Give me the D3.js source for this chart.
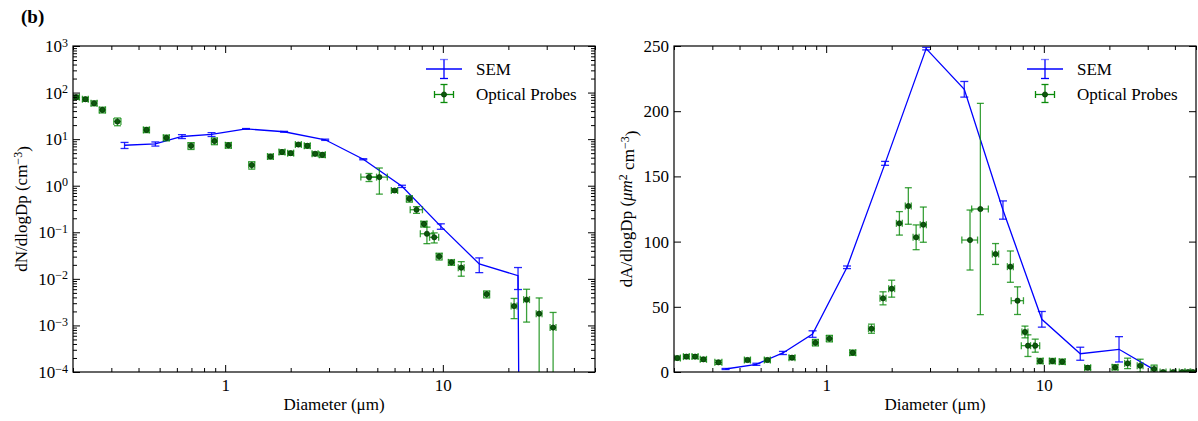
<!DOCTYPE html>
<html><head><meta charset="utf-8">
<script src="https://cdn.jsdelivr.net/npm/d3@7"></script>
<style>
body{margin:0;background:#fff;}
svg, svg text{font-family:"Liberation Serif","Times New Roman",Times,serif;}
</style></head><body><svg id="c" width="1198" height="421"></svg>
<script>
// ---- SEM series ----
const semD    = [0.345, 0.478, 0.633, 0.866, 1.247, 1.865, 2.88, 4.31, 6.49, 9.79, 14.7, 22.15, 31.9];
const semN    = [7.4, 7.9, 11.4, 12.6, 16.6, 14.4, 9.7, 3.7, 0.97, 0.134, 0.0209, 0.0117, 0];
const semNErr = [1.1, 0.8, 1.1, 1.2, 0.3, 0.3, 0.3, 0.1, 0.053, 0.018, 0.0073, 0.0058, 0];
const semA    = [2.3, 5.9, 14.6, 29.1, 80.3, 160, 248, 216.8, 124.2, 40.4, 14, 17.4, 2.0];
const semAErr = [0.4, 0.8, 1.2, 2.5, 1, 1.5, 1, 6, 7, 6, 5, 9.7, 0];

// ---- Optical probes series ----
const optD    = [0.207, 0.228, 0.25, 0.273, 0.32, 0.435, 0.537, 0.697, 0.893, 1.035, 1.325, 1.615, 1.825, 2.0, 2.17, 2.385, 2.59, 2.795,
                 4.58, 5.11, 6.0, 7.02, 7.57, 8.19, 8.45, 9.13, 9.62, 10.95, 12.15, 15.9, 21.25, 24.25, 27.7, 32.1,
                 35.3, 39.3, 43.2, 45.9, 48.4];
const optDErr = [0.007, 0.007, 0.008, 0.009, 0.012, 0.014, 0.017, 0.022, 0.028, 0.033, 0.042, 0.05, 0.058, 0.063, 0.068, 0.075, 0.082, 0.09,
                 0.38, 0.45, 0.2, 0.22, 0.49, 0.26, 0.57, 0.44, 0.3, 0.35, 0.38, 0.5, 0.65, 0.75, 0.85, 1.0,
                 1.1, 1.2, 1.3, 1.4, 1.5];
const optN    = [79.6, 72, 59, 42.5, 23.9, 15.8, 10.7, 7.2, 9.1, 7.4, 2.77, 4.24, 5.3, 5.0, 7.66, 7.2, 4.85, 4.6,
                 1.53, 1.53, 0.79, 0.524, 0.305, 0.151, 0.093, 0.078, 0.0304, 0.0226, 0.0174, 0.0047, 0.0026, 0.00358, 0.00179, 0.0009,
                 0, 0, 0, 0, 0];
const optNErr = [8, 7, 7, 6, 4.5, 2, 1.5, 1.2, 1.5, 1, 0.5, 0.5, 0.6, 0.5, 0.6, 0.8, 0.45, 0.55,
                 0.3, 0.87, 0.07, 0.08, 0.05, 0.021, 0.036, 0.019, 0.005, 0.003, 0.006, 0.0008, 0.0012, 0.0024, 0.0021, 0.001,
                 0, 0, 0, 0, 0];
const optA    = [10.7, 11.8, 11.8, 9.7, 7.4, 9.2, 9.2, 11.0, 22.5, 25.6, 14.8, 33.2, 56.5, 63.9, 114, 127.3, 103.3, 113,
                 101.2, 125, 90.5, 80.8, 54.7, 30.7, 20.2, 20.2, 8.4, 8.4, 7.9, 3.3, 3.6, 6.6, 4.8, 2.3,
                 0, 0, 0, 0, 0];
const optAErr = [1.5, 1.5, 1.5, 1.5, 1.5, 1.5, 1.5, 1.5, 2.5, 2.5, 2, 3.5, 5, 6.5, 9, 14, 9.5, 13.5,
                 23, 81, 8, 12, 10.6, 4.5, 8.3, 5, 2, 2, 2, 1.5, 2, 4, 5, 3,
                 0.5, 0.5, 0.5, 0.5, 0.5];

// ---- ticks / labels ----
const xDomain = [0.2, 50];
const xMajor = [1, 10];
const xMinor = [0.2,0.3,0.4,0.5,0.6,0.7,0.8,0.9,2,3,4,5,6,7,8,9,20,30,40,50];
const yLogMajorExp = [-4,-3,-2,-1,0,1,2,3];
const yLinMajor = [0,50,100,150,200,250];
const legendLabels = ["SEM", "Optical Probes"];

const SERIF = "'Liberation Serif', 'Times New Roman', serif";
const BLUE = "#0000ff", GREEN = "#0a8a0a", MARK = "#0b5a0b";
const svg = d3.select("#c");
svg.append("rect").attr("width",1198).attr("height",421).attr("fill","#fff");

function drawPanel(p) {
  const x = d3.scaleLog().domain(xDomain).range([p.x0, p.x1]);
  const y = p.log ? d3.scaleLog().domain([1e-4, 1e3]).range([p.y1, p.y0])
                  : d3.scaleLinear().domain([0, 250]).range([p.y1, p.y0]);
  const yOf = v => p.log ? (v > 0 ? y(v) : p.y1 + 5000) : y(v);
  const clipId = "clip" + p.id;
  svg.append("clipPath").attr("id", clipId).append("rect")
    .attr("x", p.x0).attr("y", p.y0).attr("width", p.x1 - p.x0).attr("height", p.y1 - p.y0);
  const g = svg.append("g");
  const plot = g.append("g").attr("clip-path", `url(#${clipId})`);

  // SEM line
  const idx = d3.range(semD.length);
  plot.append("path").attr("d", d3.line().x(i => x(semD[i])).y(i => yOf(p.semV[i]))(idx))
    .attr("fill", "none").attr("stroke", BLUE).attr("stroke-width", 1.3);
  // SEM error bars
  idx.forEach(i => {
    const v = p.semV[i], e = p.semE[i];
    if (!(e > 0)) return;
    const cx = x(semD[i]);
    const yt = yOf(v + e), yb = (v - e > 0 || !p.log) ? yOf(v - e) : p.y1 + 20;
    const eg = plot.append("g").attr("stroke", BLUE).attr("stroke-width", 1.3).attr("stroke-opacity", 0.85);
    eg.append("line").attr("x1", cx).attr("x2", cx).attr("y1", yt).attr("y2", yb);
    [yt, yb].forEach(yy => eg.append("line").attr("x1", cx - 4).attr("x2", cx + 4).attr("y1", yy).attr("y2", yy));
  });

  // Optical probes
  const oIdx = d3.range(optD.length).filter(i => !p.log || p.optV[i] > 0);
  oIdx.forEach(i => {
    const v = p.optV[i], e = p.optE[i], d = optD[i], de = optDErr[i];
    const cx = x(d), cy = yOf(v);
    const yt = yOf(v + e), yb = (v - e > 0 || !p.log) ? yOf(v - e) : p.y1 + 20;
    const xl = x(d - de), xr = x(d + de);
    const eg = plot.append("g").attr("stroke", GREEN).attr("stroke-width", 1.3).attr("stroke-opacity", 0.8);
    eg.append("line").attr("x1", cx).attr("x2", cx).attr("y1", yt).attr("y2", yb);
    [yt, yb].forEach(yy => eg.append("line").attr("x1", cx - 3.5).attr("x2", cx + 3.5).attr("y1", yy).attr("y2", yy));
    eg.append("line").attr("x1", xl).attr("x2", xr).attr("y1", cy).attr("y2", cy);
    [xl, xr].forEach(xx => eg.append("line").attr("x1", xx).attr("x2", xx).attr("y1", cy - 3.5).attr("y2", cy + 3.5));
  });
  oIdx.forEach(i => {
    plot.append("circle").attr("cx", x(optD[i])).attr("cy", yOf(p.optV[i])).attr("r", 2.6)
      .attr("fill", MARK).attr("stroke", "#053005").attr("stroke-width", 0.7);
  });

  // Axes
  const ax = g.append("g");
  const fmtAxis = sel => {
    sel.attr("font-size", 17).attr("font-family", SERIF);
    sel.select(".domain").remove();
    sel.selectAll(".tick line").attr("stroke", "#000");
    sel.selectAll("text").attr("fill", "#000");
  };
  ax.append("g").attr("transform", `translate(0,${p.y1})`)
    .call(d3.axisBottom(x).tickValues(xMajor).tickSize(-7).tickPadding(7).tickFormat(d3.format("d"))).call(fmtAxis);
  ax.append("g").attr("transform", `translate(0,${p.y1})`)
    .call(d3.axisBottom(x).tickValues(xMinor).tickSize(-4).tickFormat("")).call(fmtAxis);
  ax.append("g").attr("transform", `translate(0,${p.y0})`)
    .call(d3.axisTop(x).tickValues(xMajor).tickSize(-7).tickFormat("")).call(fmtAxis);
  ax.append("g").attr("transform", `translate(0,${p.y0})`)
    .call(d3.axisTop(x).tickValues(xMinor).tickSize(-4).tickFormat("")).call(fmtAxis);

  const yMajor = p.log ? yLogMajorExp.map(k => Math.pow(10, k)) : yLinMajor;
  const yl = ax.append("g").attr("transform", `translate(${p.x0},0)`)
    .call(d3.axisLeft(y).tickValues(yMajor).tickSize(-7).tickPadding(5).tickFormat(d3.format("d"))).call(fmtAxis);
  ax.append("g").attr("transform", `translate(${p.x1},0)`)
    .call(d3.axisRight(y).tickValues(yMajor).tickSize(-7).tickFormat("")).call(fmtAxis);
  if (p.log) {
    yl.selectAll(".tick text").each(function(d, j) {
      const t = d3.select(this).text(null);
      const k = yLogMajorExp[j];
      t.append("tspan").text("10");
      t.append("tspan").attr("dy", "-0.45em").attr("font-size", 12).text(k < 0 ? "\u2212" + (-k) : String(k));
    });
    const yMinor = [];
    yLogMajorExp.slice(0, -1).forEach(k => { for (let m = 2; m <= 9; m++) yMinor.push(m * Math.pow(10, k)); });
    ax.append("g").attr("transform", `translate(${p.x0},0)`)
      .call(d3.axisLeft(y).tickValues(yMinor).tickSize(-4).tickFormat("")).call(fmtAxis);
    ax.append("g").attr("transform", `translate(${p.x1},0)`)
      .call(d3.axisRight(y).tickValues(yMinor).tickSize(-4).tickFormat("")).call(fmtAxis);
  }
  // frame
  g.append("rect").attr("x", p.x0).attr("y", p.y0).attr("width", p.x1 - p.x0).attr("height", p.y1 - p.y0)
    .attr("fill", "none").attr("stroke", "#000").attr("stroke-width", 1.2);

  // axis labels
  g.append("text").attr("x", (p.x0 + p.x1) / 2).attr("y", 410).attr("text-anchor", "middle")
    .attr("font-size", 17).attr("font-family", SERIF).text("Diameter (\u03bcm)");
  const yt = g.append("text").attr("transform", `translate(${p.ylabX},${(p.y0 + p.y1) / 2}) rotate(-90)`)
    .attr("text-anchor", "middle").attr("font-size", 17).attr("font-family", SERIF);
  p.ylabel(yt);

  // legend
  const lg = g.append("g");
  const lx = p.legX;
  lg.append("line").attr("x1", lx - 18).attr("x2", lx + 18).attr("y1", 69).attr("y2", 69).attr("stroke", BLUE).attr("stroke-width", 1.3);
  lg.append("line").attr("x1", lx).attr("x2", lx).attr("y1", 59.5).attr("y2", 78.5).attr("stroke", BLUE).attr("stroke-width", 1.3);
  [59.5, 78.5].forEach(yy => lg.append("line").attr("x1", lx - 4).attr("x2", lx + 4).attr("y1", yy).attr("y2", yy).attr("stroke", BLUE).attr("stroke-width", 1.3).attr("stroke-opacity", yy < 60 ? 0.5 : 1));
  const oy = 94.5;
  const og = lg.append("g").attr("stroke", GREEN).attr("stroke-width", 1.3);
  og.append("line").attr("x1", lx - 9.5).attr("x2", lx + 9.5).attr("y1", oy).attr("y2", oy);
  og.append("line").attr("x1", lx).attr("x2", lx).attr("y1", oy - 10).attr("y2", oy + 8);
  [lx - 9.5, lx + 9.5].forEach(xx => og.append("line").attr("x1", xx).attr("x2", xx).attr("y1", oy - 3.5).attr("y2", oy + 3.5));
  [oy - 10, oy + 8].forEach(yy => og.append("line").attr("x1", lx - 3.5).attr("x2", lx + 3.5).attr("y1", yy).attr("y2", yy));
  lg.append("circle").attr("cx", lx).attr("cy", oy).attr("r", 2.6).attr("fill", MARK).attr("stroke", "#053005").attr("stroke-width", 0.7);
  lg.append("text").attr("x", lx + 32).attr("y", 75).attr("font-size", 17).attr("font-family", SERIF).text(legendLabels[0]);
  lg.append("text").attr("x", lx + 32).attr("y", 100).attr("font-size", 17).attr("font-family", SERIF).text(legendLabels[1]);
}

drawPanel({id: "L", x0: 73, x1: 595, y0: 46, y1: 372, log: true,
  semV: semN, semE: semNErr, optV: optN, optE: optNErr, ylabX: 27, legX: 444,
  ylabel: t => { t.append("tspan").text("dN/dlogDp (cm"); t.append("tspan").attr("dy", "-0.45em").attr("font-size", 12).text("\u22123"); t.append("tspan").attr("dy", "0.45em").text(")"); }});
drawPanel({id: "R", x0: 674, x1: 1196, y0: 46, y1: 372, log: false,
  semV: semA, semE: semAErr, optV: optA, optE: optAErr, ylabX: 632, legX: 1045,
  ylabel: t => { t.append("tspan").text("dA/dlogDp ("); t.append("tspan").attr("font-style", "italic").text("\u03bcm");
    t.append("tspan").attr("dy", "-0.45em").attr("font-size", 12).text("2");
    t.append("tspan").attr("dy", "0.45em").text(" cm");
    t.append("tspan").attr("dy", "-0.45em").attr("font-size", 12).text("\u22123");
    t.append("tspan").attr("dy", "0.45em").text(")"); }});

svg.append("text").attr("x", 21).attr("y", 23).attr("font-size", 19).attr("font-weight", "bold").attr("font-family", SERIF).text("(b)");
</script></body></html>
